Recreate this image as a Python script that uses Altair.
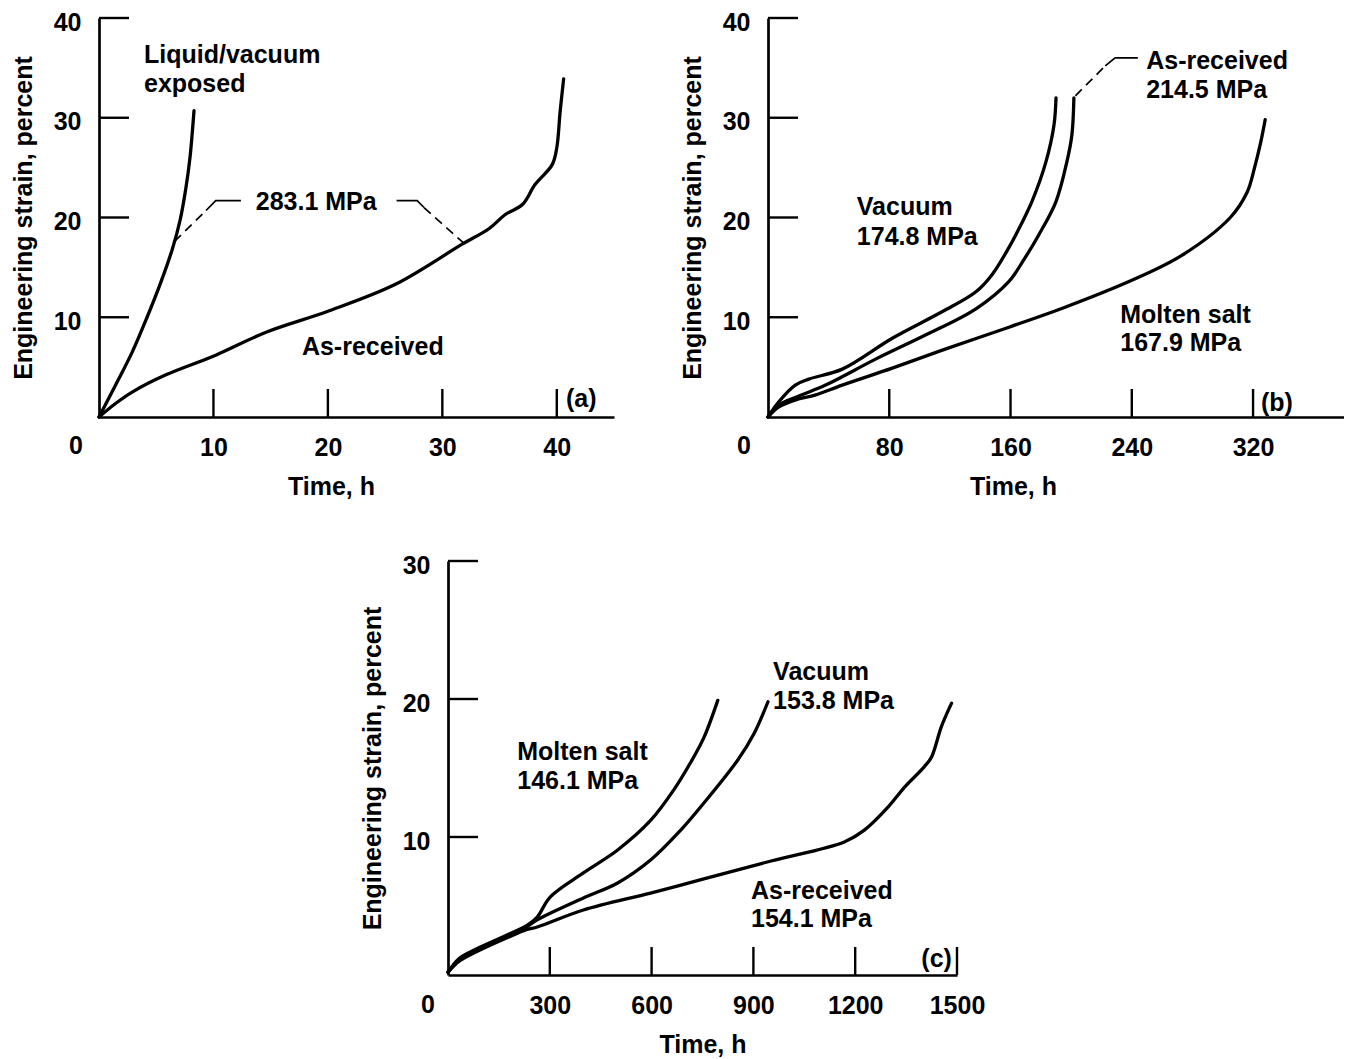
import altair as alt
import pandas as pd

FONT = "Liberation Sans"
FS = 25
INK = "#000000"

# ---------------- Panel (a) ----------------
a_liquid_t = [0, 1.45, 2.9, 4.2, 5.4, 6.4, 7.1, 7.6, 7.95, 8.15, 8.3]
a_liquid_s = [0, 3.2, 6.5, 10.0, 13.5, 16.8, 19.8, 23.0, 26.0, 28.5, 30.7]
a_asrec_t = [0, 1.5, 2.9, 5.8, 10.2, 14.6, 20.0, 25.9, 31.7, 34.1, 35.5, 37.0, 38.1, 39.6, 40.0, 40.3, 40.6]
a_asrec_s = [0, 1.4, 2.5, 4.2, 6.2, 8.5, 10.6, 13.3, 17.3, 18.9, 20.3, 21.3, 23.3, 25.3, 27.0, 30.7, 33.9]

a_solid_g = ["L", "L", "L", "R", "R", "R"]
a_solid_t = [9.35, 10.2, 12.4, 26.0, 27.8, 28.4]
a_solid_s = [20.7, 21.7, 21.7, 21.7, 21.7, 21.0]
a_dash_g = ["L", "L", "R", "R"]
a_dash_t = [6.6, 9.35, 28.4, 31.9]
a_dash_s = [17.6, 20.7, 21.0, 17.4]

a_lab_text = ["Liquid/vacuum", "exposed", "283.1 MPa", "As-received", "(a)"]
a_lab_t = [3.93, 3.93, 13.7, 17.73, 40.8]
a_lab_s = [36.4, 33.5, 21.66, 7.19, 2.0]

a_xticks = [10, 20, 30, 40]
a_yticks = [10, 20, 30, 40]

# ---------------- Panel (b) ----------------
b_vac_t = [0, 7, 18, 27, 49, 82, 114.8, 137.2, 147.8, 159, 163.6, 174.1, 183.4, 188.7, 190]
b_vac_s = [0, 1.5, 3.2, 3.8, 4.8, 7.9, 10.55, 12.56, 14.27, 17.0, 18.3, 21.6, 25.6, 29.3, 32.0]
b_asr_t = [0, 7, 22, 38, 71, 104.2, 137.2, 159, 168.9, 178.8, 190, 197.2, 200.5, 201.8]
b_asr_s = [0, 1.2, 2.2, 3.2, 5.8, 8.24, 10.85, 13.6, 15.8, 18.3, 21.6, 25.6, 28.3, 32.0]
b_ms_t = [0, 7, 20, 31, 49, 82, 115, 159, 196, 240, 273, 305, 316, 321, 325, 328]
b_ms_s = [0, 1.0, 1.8, 2.2, 3.2, 4.9, 6.7, 9.0, 11.0, 13.7, 16.2, 20.0, 22.5, 25.0, 27.5, 29.8]

b_solid_g = ["A", "A", "A"]
b_solid_t = [222.5, 229.0, 244.0]
b_solid_s = [35.2, 36.0, 36.0]
b_dash_g = ["A", "A"]
b_dash_t = [202.8, 222.5]
b_dash_s = [32.2, 35.2]

b_lab_text = ["Vacuum", "174.8 MPa", "As-received", "214.5 MPa", "Molten salt", "167.9 MPa", "(b)"]
b_lab_t = [58.6, 58.6, 249.5, 249.5, 232.4, 232.4, 325.2]
b_lab_s = [21.2, 18.2, 35.8, 32.9, 10.35, 7.54, 1.6]

b_xticks = [80, 160, 240, 320]
b_yticks = [10, 20, 30, 40]

# ---------------- Panel (c) ----------------
c_ms_t = [0, 33, 85, 174, 233, 263, 301, 399, 500, 597, 665, 715, 754, 795]
c_ms_s = [0.2, 1.2, 1.9, 2.9, 3.6, 4.2, 5.65, 7.4, 9.06, 11.2, 13.4, 15.4, 17.2, 19.9]
c_vac_t = [0, 33, 85, 174, 233, 263, 399, 500, 597, 686, 754, 854, 902, 943]
c_vac_s = [0.2, 1.1, 1.8, 2.8, 3.5, 4.0, 5.58, 6.67, 8.33, 10.5, 12.46, 15.58, 17.5, 19.8]
c_asr_t = [0, 33, 85, 174, 233, 263, 399, 597, 754, 952, 1168, 1227, 1298, 1345, 1404, 1425, 1454, 1484]
c_asr_s = [0.2, 1.0, 1.7, 2.7, 3.3, 3.48, 4.71, 5.94, 6.96, 8.26, 9.64, 10.5, 12.2, 13.6, 15.1, 15.8, 18.0, 19.7]

c_lab_text = ["Molten salt", "146.1 MPa", "Vacuum", "153.8 MPa", "As-received", "154.1 MPa", "(c)"]
c_lab_t = [204, 204, 958, 958, 893, 893, 1395]
c_lab_s = [16.3, 14.2, 22.1, 20.0, 6.16, 4.17, 1.3]

c_xticks = [300, 600, 900, 1200, 1500]
c_yticks = [10, 20, 30]


def curves_df(series):
    rows = []
    for name, ts, ss in series:
        for i, (t, s) in enumerate(zip(ts, ss)):
            rows.append({"t": t, "s": s, "c": name, "i": i})
    return pd.DataFrame(rows)


def seg_df(gs, ts, ss):
    return pd.DataFrame({"g": gs, "t": ts, "s": ss, "i": list(range(len(ts)))})


def panel(curves, solid, dash, labels, xdom, ydom, xvals, yvals, w, h, title_x, zdx, zdy):
    xs = alt.Scale(domain=xdom, nice=False, zero=False)
    ys = alt.Scale(domain=ydom, nice=False, zero=False)
    xax = alt.Axis(values=xvals, title="Time, h", titleX=title_x, format="d")
    yax = alt.Axis(values=yvals, title="Engineering strain, percent", format="d")
    X = alt.X("t:Q", scale=xs, axis=xax)
    Y = alt.Y("s:Q", scale=ys, axis=yax)

    layers = [
        alt.Chart(curves).mark_line(interpolate="catmull-rom", strokeWidth=3.3, color=INK,
                                    strokeCap="round", strokeJoin="round")
        .encode(x=X, y=Y, detail="c:N", order="i:Q")
    ]
    if solid is not None:
        layers.append(alt.Chart(solid).mark_line(strokeWidth=1.7, color=INK)
                      .encode(x=X, y=Y, detail="g:N", order="i:Q"))
    if dash is not None:
        layers.append(alt.Chart(dash).mark_line(strokeWidth=1.7, color=INK, strokeDash=[9, 6])
                      .encode(x=X, y=Y, detail="g:N", order="i:Q"))
    xt = pd.DataFrame({"t": xvals, "s": [ydom[0]] * len(xvals)})
    yt = pd.DataFrame({"t": [xdom[0]] * len(yvals), "s": yvals})
    layers.append(alt.Chart(xt).mark_tick(orient="vertical", size=28, thickness=2.4,
                                          yOffset=-14, color=INK, opacity=1)
                  .encode(x=X, y=Y))
    layers.append(alt.Chart(yt).mark_tick(orient="horizontal", size=30, thickness=2.4,
                                          xOffset=15, color=INK, opacity=1)
                  .encode(x=X, y=Y))
    layers.append(alt.Chart(labels).mark_text(align="left", baseline="middle", font=FONT,
                                              fontSize=FS, fontWeight="bold", color=INK, dy=1.5)
                  .encode(x=X, y=Y, text="txt:N"))
    zero = pd.DataFrame({"t": [xdom[0]], "s": [ydom[0]], "txt": ["0"]})
    layers.append(alt.Chart(zero).mark_text(align="center", baseline="middle", font=FONT,
                                            fontSize=FS, fontWeight="bold", color=INK,
                                            dx=zdx, dy=zdy)
                  .encode(x=X, y=Y, text="txt:N"))
    return alt.layer(*layers).properties(width=w, height=h)


pa = panel(
    curves_df([("liquid", a_liquid_t, a_liquid_s), ("asrec", a_asrec_t, a_asrec_s)]),
    seg_df(a_solid_g, a_solid_t, a_solid_s),
    seg_df(a_dash_g, a_dash_t, a_dash_s),
    pd.DataFrame({"txt": a_lab_text, "t": a_lab_t, "s": a_lab_s}),
    [0, 45], [0, 40], a_xticks, a_yticks, 515, 399, 232, -23, 29,
)

pb = panel(
    curves_df([("vac", b_vac_t, b_vac_s), ("asr", b_asr_t, b_asr_s), ("ms", b_ms_t, b_ms_s)]),
    seg_df(b_solid_g, b_solid_t, b_solid_s),
    seg_df(b_dash_g, b_dash_t, b_dash_s),
    pd.DataFrame({"txt": b_lab_text, "t": b_lab_t, "s": b_lab_s}),
    [0, 380], [0, 40], b_xticks, b_yticks, 576, 399, 245, -24, 29,
)

pc = panel(
    curves_df([("ms", c_ms_t, c_ms_s), ("vac", c_vac_t, c_vac_s), ("asr", c_asr_t, c_asr_s)]),
    None, None,
    pd.DataFrame({"txt": c_lab_text, "t": c_lab_t, "s": c_lab_s}),
    [0, 1500], [0, 30], c_xticks, c_yticks, 509, 414, 254.5, -20, 30,
)

spacer = (
    alt.Chart(pd.DataFrame({"t": [0], "s": [0]}))
    .mark_point(opacity=0, size=1)
    .encode(x=alt.X("t:Q", axis=None), y=alt.Y("s:Q", axis=None))
    .properties(width=261, height=10)
)

top = alt.hconcat(pa, pb, spacing=66)
bottom = alt.hconcat(spacer, pc, spacing=0)

chart = (
    alt.vconcat(top, bottom, spacing=54)
    .properties(padding={"left": 3, "top": 2, "right": 0, "bottom": 0}, background="white")
    .configure_view(stroke=None)
    .configure_axis(
        labelFont=FONT, labelFontSize=FS, labelFontWeight="bold", labelColor=INK,
        titleFont=FONT, titleFontSize=FS, titleFontWeight="bold", titleColor=INK,
        domainColor=INK, domainWidth=2.7, ticks=False, tickSize=0, grid=False,
        labelFlush=False, labelOverlap=False, labelPadding=18,
    )
    .configure_axisX(titlePadding=14)
    .configure_axisY(titlePadding=17, labelOffset=4)
)

chart.save("out.html", embed_options={"renderer": "svg", "actions": False})
